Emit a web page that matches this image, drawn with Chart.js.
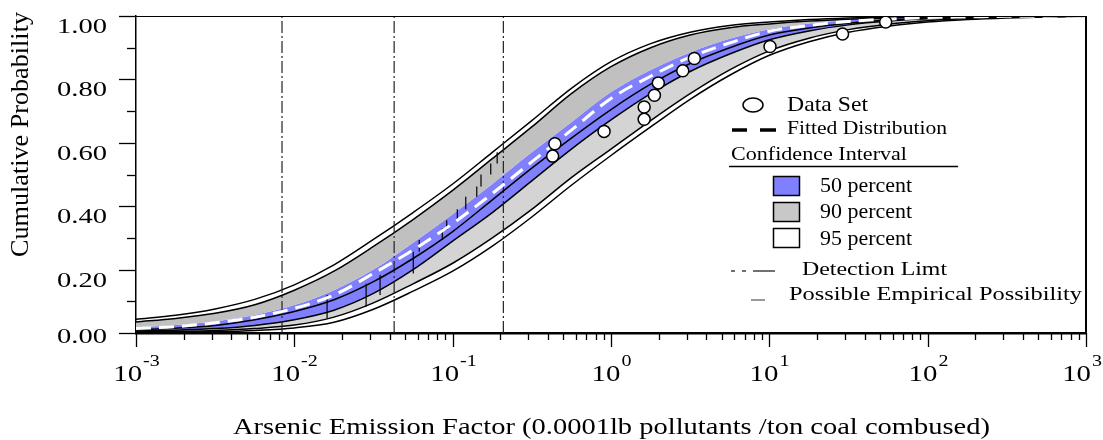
<!DOCTYPE html>
<html>
<head>
<meta charset="utf-8">
<script src="https://cdn.jsdelivr.net/npm/chart.js@4.4.1/dist/chart.umd.min.js"></script>
<style>
	html, body { margin: 0; padding: 0; background: #fff; }
</style>
</head>
<body>
<canvas id="cdfChart" width="1103" height="440"></canvas>
<script>
// значення x (log-сітка) та зчитані криві
const xGrid = [0.001, 0.00178, 0.00316, 0.00562, 0.01, 0.0178, 0.0316, 0.0562, 0.1, 0.178, 0.316, 0.562, 1, 1.78, 3.16, 5.62, 10, 17.8, 31.6, 56.2, 100, 178, 316, 562, 1000]

const upper95 = [0.043, 0.056, 0.076, 0.106, 0.152, 0.215, 0.295, 0.380, 0.470, 0.570, 0.670, 0.772, 0.856, 0.913, 0.949, 0.970, 0.981, 0.989, 0.994, 0.997, 0.998, 0.999, 1.0, 1.0, 1.0]
const upper90 = [0.035, 0.046, 0.062, 0.089, 0.135, 0.195, 0.273, 0.358, 0.450, 0.550, 0.650, 0.755, 0.840, 0.900, 0.940, 0.963, 0.975, 0.984, 0.990, 0.994, 0.997, 0.998, 0.999, 1.0, 1.0]
const upper50 = [0.018, 0.025, 0.037, 0.057, 0.088, 0.135, 0.200, 0.285, 0.375, 0.470, 0.570, 0.665, 0.760, 0.830, 0.885, 0.928, 0.958, 0.976, 0.987, 0.993, 0.996, 0.998, 0.999, 1.0, 1.0]
const fitted = [0.014, 0.020, 0.032, 0.050, 0.078, 0.120, 0.188, 0.262, 0.345, 0.440, 0.540, 0.640, 0.740, 0.810, 0.870, 0.915, 0.952, 0.970, 0.983, 0.990, 0.995, 0.997, 0.999, 0.9995, 1.0]
const median = [0.010, 0.015, 0.024, 0.042, 0.068, 0.105, 0.162, 0.235, 0.320, 0.420, 0.520, 0.615, 0.705, 0.785, 0.850, 0.900, 0.940, 0.962, 0.977, 0.987, 0.993, 0.996, 0.998, 0.999, 1.0]
const lower50 = [0.006, 0.009, 0.014, 0.024, 0.042, 0.072, 0.125, 0.200, 0.290, 0.380, 0.480, 0.580, 0.672, 0.755, 0.825, 0.880, 0.925, 0.953, 0.972, 0.984, 0.991, 0.995, 0.998, 0.999, 1.0]
const lower90 = [0.003, 0.005, 0.008, 0.014, 0.025, 0.050, 0.095, 0.155, 0.220, 0.300, 0.390, 0.490, 0.580, 0.670, 0.755, 0.830, 0.890, 0.930, 0.957, 0.974, 0.985, 0.992, 0.996, 0.998, 0.999]
const lower95 = [0.001, 0.002, 0.004, 0.008, 0.016, 0.034, 0.075, 0.132, 0.195, 0.274, 0.366, 0.466, 0.560, 0.650, 0.737, 0.813, 0.876, 0.919, 0.949, 0.968, 0.981, 0.989, 0.994, 0.997, 0.999]

// дані вимірювань
const dataX = [0.428, 0.442, 0.904, 1.62, 1.62, 1.88, 1.99, 2.84, 3.36, 10.1, 29.0, 54.3]
const dataY = [0.558, 0.597, 0.636, 0.674, 0.713, 0.750, 0.789, 0.827, 0.866, 0.904, 0.943, 0.981]

// межі виявлення
const detectionX = [0.00836, 0.0427, 0.209]

// можливі емпіричні положення (нижче межі виявлення)
const empX = [0.0161, 0.0284, 0.0348, 0.0564, 0.0615, 0.086, 0.0917, 0.107, 0.121, 0.142, 0.151, 0.174, 0.191]
const empLo = [0.047, 0.083, 0.120, 0.188, 0.256, 0.293, 0.325, 0.356, 0.390, 0.430, 0.462, 0.500, 0.535]
const empHi = [0.120, 0.155, 0.183, 0.256, 0.293, 0.330, 0.356, 0.390, 0.430, 0.462, 0.500, 0.535, 0.570]

// підписи осей
const yTickValues = [0, 0.2, 0.4, 0.6, 0.8, 1.0]
const yTickLabels = ['0.00', '0.20', '0.40', '0.60', '0.80', '1.00']
const yMinorValues = [0.1, 0.3, 0.5, 0.7, 0.9]
const xDecades = [-3, -2, -1, 0, 1, 2, 3]
const xMinorMult = [2, 3, 4, 5, 6, 7, 8, 9]
const xTitle = 'Arsenic Emission Factor (0.0001lb pollutants /ton coal combused)'
const yTitle = 'Cumulative Probability'

const FONT = '"Liberation Serif", "Times New Roman", serif'

function pts(ys) {
	return xGrid.map((x, i) => ({ x: x, y: ys[i] }))
}

function segments(xs, y1s, y2s) {
	const out = []
	xs.forEach((x, i) => {
		out.push({ x: x, y: y1s[i] })
		out.push({ x: x, y: y2s[i] })
		out.push({ x: x, y: null })
	})
	return out
}

function curve(data, extra) {
	return Object.assign({
		data: data,
		borderColor: '#000',
		borderWidth: 1.5,
		pointRadius: 0,
		fill: false,
		cubicInterpolationMode: 'monotone',
		order: 3,
	}, extra)
}

// текст з горизонтальним розтягом під задану ширину
function drawText(c, s, x, y, size, width, align) {
	c.save()
	c.font = size + 'px ' + FONT
	const w = c.measureText(s).width
	const sx = width ? width / w : 1
	const tw = w * sx
	let x0 = x
	if (align === 'right') x0 = x - tw
	if (align === 'center') x0 = x - tw / 2
	c.translate(x0, y)
	c.scale(sx, 1)
	c.fillStyle = '#000'
	c.textAlign = 'left'
	c.textBaseline = 'alphabetic'
	c.fillText(s, 0, 0)
	c.restore()
	return tw
}

function line(c, x1, y1, x2, y2, w, color, dash) {
	c.save()
	c.beginPath()
	c.strokeStyle = color || '#000'
	c.lineWidth = w
	c.setLineDash(dash || [])
	c.moveTo(x1, y1)
	c.lineTo(x2, y2)
	c.stroke()
	c.restore()
}

const decorPlugin = {
	id: 'decor',
	afterDraw(chart) {
		const c = chart.ctx
		const a = chart.chartArea
		const xS = chart.scales.x
		const yS = chart.scales.y

		// рамка
		line(c, a.left, a.top + 0.5, a.right, a.top + 0.5, 1.2)
		line(c, a.right, a.top, a.right, a.bottom, 2)

		// поділки осі Y
		yTickValues.forEach((v, i) => {
			const py = Math.round(yS.getPixelForValue(v)) + 0.5
			line(c, a.left - 17, py, a.left, py, 1.3)
			const base = Math.min(py + 16, a.bottom + 10)
			drawText(c, yTickLabels[i], 107, base, 22, 50, 'right')
		})
		yMinorValues.forEach(v => {
			const py = Math.round(yS.getPixelForValue(v)) + 0.5
			line(c, a.left - 9, py, a.left, py, 1.3)
		})

		// поділки осі X
		xDecades.forEach(e => {
			const px = Math.round(xS.getPixelForValue(Math.pow(10, e))) + 0.5
			line(c, px, a.bottom, px, a.bottom + 14, 1.3)
			if (e < 3) {
				xMinorMult.forEach(m => {
					const mx = Math.round(xS.getPixelForValue(m * Math.pow(10, e))) + 0.5
					line(c, mx, a.bottom, mx, a.bottom + 7, 1.3)
				})
			}
			// підпис 10^e
			const expStr = String(e)
			c.save()
			c.font = '24px ' + FONT
			const wBase = c.measureText('10').width * 1.2
			c.font = '16px ' + FONT
			const wExp = c.measureText(expStr).width * 1.25
			c.restore()
			let x0 = px - (wBase + wExp + 1) / 2
			x0 = Math.min(x0, chart.width - 1 - (wBase + wExp + 1))
			drawText(c, '10', x0, 381, 24, wBase, 'left')
			drawText(c, expStr, x0 + wBase + 1, 366, 16, wExp, 'left')
		})

		// назви осей
		drawText(c, xTitle, 611.5, 434, 23, 757, 'center')
		c.save()
		c.translate(28, 134.5)
		c.rotate(-Math.PI / 2)
		drawText(c, yTitle, 0, 0, 25, 245, 'center')
		c.restore()

		// легенда
		c.save()
		c.beginPath()
		c.ellipse(753, 105, 10, 7, 0, 0, Math.PI * 2)
		c.fillStyle = '#fff'
		c.fill()
		c.lineWidth = 1.5
		c.strokeStyle = '#000'
		c.stroke()
		c.restore()
		drawText(c, 'Data Set', 787, 111, 21, 81, 'left')

		line(c, 732, 130, 747, 130, 3.5)
		line(c, 760, 130, 776, 130, 3.5)
		drawText(c, 'Fitted Distribution', 787, 134, 19, 160, 'left')

		drawText(c, 'Confidence Interval', 731, 160, 19, 176, 'left')
		line(c, 729, 166.5, 958, 166.5, 1.5)

		const boxes = [['#8080ff', 176, '50 percent', 192], ['#c8c8c8', 202, '90 percent', 218], ['#ffffff', 228, '95 percent', 245]]
		boxes.forEach(b => {
			c.save()
			c.fillStyle = b[0]
			c.fillRect(773.5, b[1] + 0.5, 26, 19)
			c.lineWidth = 1.5
			c.strokeStyle = '#000'
			c.strokeRect(773.5, b[1] + 0.5, 26, 19)
			c.restore()
			drawText(c, b[2], 820, b[3], 21, 92, 'left')
		})

		line(c, 731, 271, 735, 271, 1.3, '#222')
		line(c, 742, 271, 746, 271, 1.3, '#222')
		line(c, 753, 271, 775, 271, 1.3, '#222')
		drawText(c, 'Detection Limt', 802, 275, 19, 145, 'left')

		line(c, 751, 300, 765, 300, 1.5, '#777')
		drawText(c, 'Possible Empirical Possibility', 789, 300, 19, 293, 'left')
	},
}

const ctx = document.getElementById('cdfChart').getContext('2d')

const cdfChart = new Chart(ctx, {
	type: 'line',
	data: {
		datasets: [
			curve(pts(lower95)),
			curve(pts(upper95)),
			curve(pts(upper90), { fill: 3, backgroundColor: '#c0c0c0' }),
			curve(pts(upper50), { borderWidth: 0, fill: 4, backgroundColor: '#8080ff' }),
			curve(pts(lower50), { fill: 5, backgroundColor: '#d4d4d4' }),
			curve(pts(lower90)),
			curve(pts(median), { order: 2 }),
			curve(pts(fitted), { borderColor: '#fff', borderWidth: 3, borderDash: [15, 8], order: 1 }),
			{
				data: dataX.map((x, i) => ({ x: x, y: dataY[i] })),
				showLine: false,
				pointRadius: 6,
				pointBackgroundColor: '#fff',
				pointBorderColor: '#000',
				pointBorderWidth: 1.5,
				order: 0,
			},
			{
				data: segments(detectionX, detectionX.map(() => 0), detectionX.map(() => 1)),
				borderColor: '#222',
				borderWidth: 1.2,
				borderDash: [12, 3, 2, 3],
				pointRadius: 0,
				spanGaps: false,
				fill: false,
				order: 2,
			},
			{
				data: segments(empX, empLo, empHi),
				borderColor: '#000',
				borderWidth: 1.2,
				pointRadius: 0,
				spanGaps: false,
				fill: false,
				order: 2,
			},
		],
	},
	options: {
		responsive: false,
		animation: false,
		events: [],
		layout: { padding: { left: 0, right: 17, top: 16, bottom: 0 } },
		plugins: {
			legend: { display: false },
			tooltip: { enabled: false },
			filler: { drawTime: 'beforeDatasetsDraw' },
		},
		scales: {
			x: {
				type: 'logarithmic',
				position: 'bottom',
				min: 0.001,
				max: 1000,
				grid: { display: false },
				ticks: { display: false },
				border: { display: true, color: '#000', width: 2.5 },
				afterFit: s => { s.height = 107 },
			},
			y: {
				type: 'linear',
				min: 0,
				max: 1,
				grid: { display: false },
				ticks: { display: false },
				border: { display: true, color: '#000', width: 1.5 },
				afterFit: s => { s.width = 136 },
			},
		},
	},
	plugins: [decorPlugin],
})
</script>
</body>
</html>
